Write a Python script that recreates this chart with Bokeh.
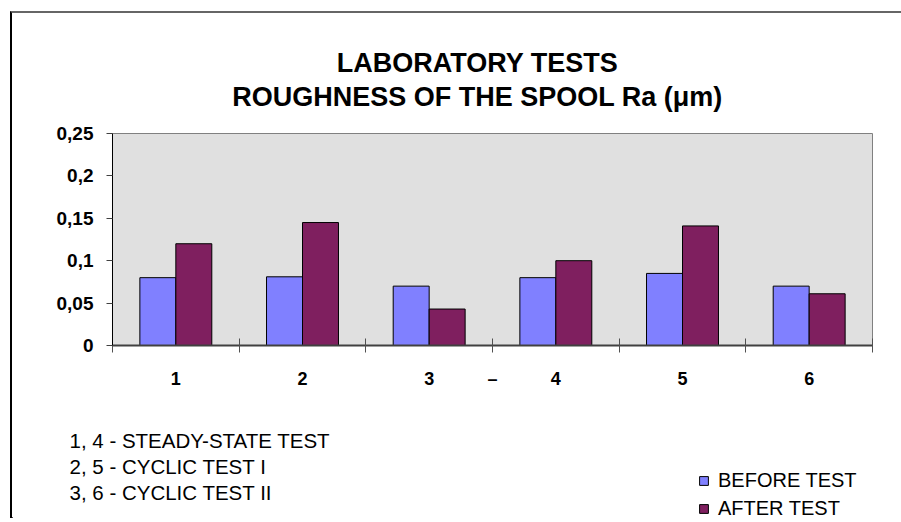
from bokeh.plotting import figure
from bokeh.layouts import column
from bokeh.models import (Range1d, FixedTicker, Label, Legend, LegendItem,
                          ColumnDataSource)
from bokeh.embed import file_html
from bokeh.resources import INLINE

# ---- data ----
categories = ["1", "2", "3", "4", "5", "6"]
before = [0.080, 0.081, 0.070, 0.080, 0.085, 0.070]
after = [0.120, 0.145, 0.043, 0.100, 0.141, 0.061]
series_names = ["BEFORE TEST", "AFTER TEST"]
series_colors = ["#8080FF", "#7F1F5F"]
y_ticks = [0, 0.05, 0.1, 0.15, 0.2, 0.25]
y_tick_labels = ["0", "0,05", "0,1", "0,15", "0,2", "0,25"]
title_lines = ["LABORATORY TESTS", "ROUGHNESS OF THE SPOOL Ra (\u03bcm)"]
notes = ["1, 4 - STEADY-STATE TEST", "2, 5 - CYCLIC TEST I", "3, 6 - CYCLIC TEST II"]

FONT = "Liberation Sans"
W = 889
BAR_W = 0.284
n = len(categories)
centers = [i + 0.5 for i in range(n)]


def blank(height):
    f = figure(width=W, height=height, output_backend="svg", toolbar_location=None,
               x_range=Range1d(0, W), y_range=Range1d(0, height), title=None,
               x_axis_location=None, y_axis_location=None,
               min_border=0, min_border_left=0, min_border_right=0,
               min_border_top=0, min_border_bottom=0, frame_align=False)
    f.outline_line_color = None
    f.xgrid.visible = False
    f.ygrid.visible = False
    f.background_fill_color = "white"
    f.border_fill_color = "white"
    return f


# ---------- title panel ----------
TOP_H = 105
pt = blank(TOP_H)
for i, t in enumerate(title_lines):
    pt.add_layout(Label(x=465, y=56 - 34 * i, text=t,
                        text_align="center", text_baseline="middle",
                        text_font=FONT, text_font_style="bold",
                        text_font_size="27px", text_color="black"))

# ---------- main chart ----------
src = ColumnDataSource(dict(
    xb=[c - BAR_W / 2 for c in centers],
    xa=[c + BAR_W / 2 for c in centers],
    before=before, after=after,
))

MAIN_H = 282
p = figure(width=W, height=MAIN_H, output_backend="svg", toolbar_location=None,
           x_range=Range1d(0, n), y_range=Range1d(0, 0.25), title=None,
           min_border_left=100, min_border_right=29,
           min_border_top=15, min_border_bottom=55, frame_align=False)
p.background_fill_color = "#E0E0E0"
p.border_fill_color = "white"
p.outline_line_color = "#808080"
p.outline_line_width = 1
p.xgrid.visible = False
p.ygrid.visible = False

r1 = p.vbar(x="xb", top="before", width=BAR_W, bottom=0, source=src,
            fill_color=series_colors[0], line_color="#000000", line_width=1)
r2 = p.vbar(x="xa", top="after", width=BAR_W, bottom=0, source=src,
            fill_color=series_colors[1], line_color="#000000", line_width=1)

xa = p.xaxis[0]
xticks = centers + [3.0]
xlabels = categories + ["\u2013"]
xa.ticker = FixedTicker(ticks=xticks, minor_ticks=list(range(n + 1)))
xa.major_label_overrides = {c: lab for c, lab in zip(xticks, xlabels)}
xa.major_tick_line_color = None
xa.major_tick_out = 0
xa.major_tick_in = 0
xa.minor_tick_line_color = "#505050"
xa.minor_tick_in = 7
xa.minor_tick_out = 7
xa.axis_line_color = "#404040"
xa.axis_line_width = 2
xa.major_label_standoff = 16
xa.major_label_text_font = FONT
xa.major_label_text_font_style = "bold"
xa.major_label_text_font_size = "18px"
xa.major_label_text_color = "black"

ya = p.yaxis[0]
ya.ticker = FixedTicker(ticks=y_ticks)
ya.major_label_overrides = {t: lab for t, lab in zip(y_ticks, y_tick_labels)}
ya.minor_tick_line_color = None
ya.major_tick_out = 6
ya.major_tick_in = 0
ya.major_tick_line_color = "#404040"
ya.axis_line_color = "black"
ya.axis_line_width = 1
ya.major_label_standoff = 13
ya.major_label_text_font = FONT
ya.major_label_text_font_style = "bold"
ya.major_label_text_font_size = "19px"
ya.major_label_text_color = "black"

# ---------- notes + legend panel ----------
BOT_H = 118
pb = blank(BOT_H)
for i, t in enumerate(notes):
    pb.add_layout(Label(x=57, y=78 - 26 * i, text=t,
                        text_align="left", text_baseline="middle",
                        text_font=FONT, text_font_size="20.5px",
                        text_color="black"))

# legend proxies (placed off the visible area of this panel)
d1 = pb.vbar(x=[-500], top=[1], width=1, fill_color=series_colors[0], line_color="#000000")
d2 = pb.vbar(x=[-500], top=[1], width=1, fill_color=series_colors[1], line_color="#000000")
legend = Legend(items=[LegendItem(label=series_names[0], renderers=[d1]),
                       LegendItem(label=series_names[1], renderers=[d2])],
                location=(686, -2), orientation="vertical",
                padding=0, margin=0, spacing=5,
                glyph_width=11, glyph_height=11, label_standoff=9,
                label_height=20,
                label_text_font=FONT, label_text_font_size="20px",
                label_text_color="black",
                border_line_color=None, background_fill_alpha=0)
pb.add_layout(legend)

layout = column(pt, p, pb, spacing=0,
                styles={"margin-left": "10px", "margin-top": "11px",
                        "border-left": "2px solid #000000",
                        "border-top": "2px solid #666666"})

open("out.html", "w").write(file_html(layout, INLINE))
